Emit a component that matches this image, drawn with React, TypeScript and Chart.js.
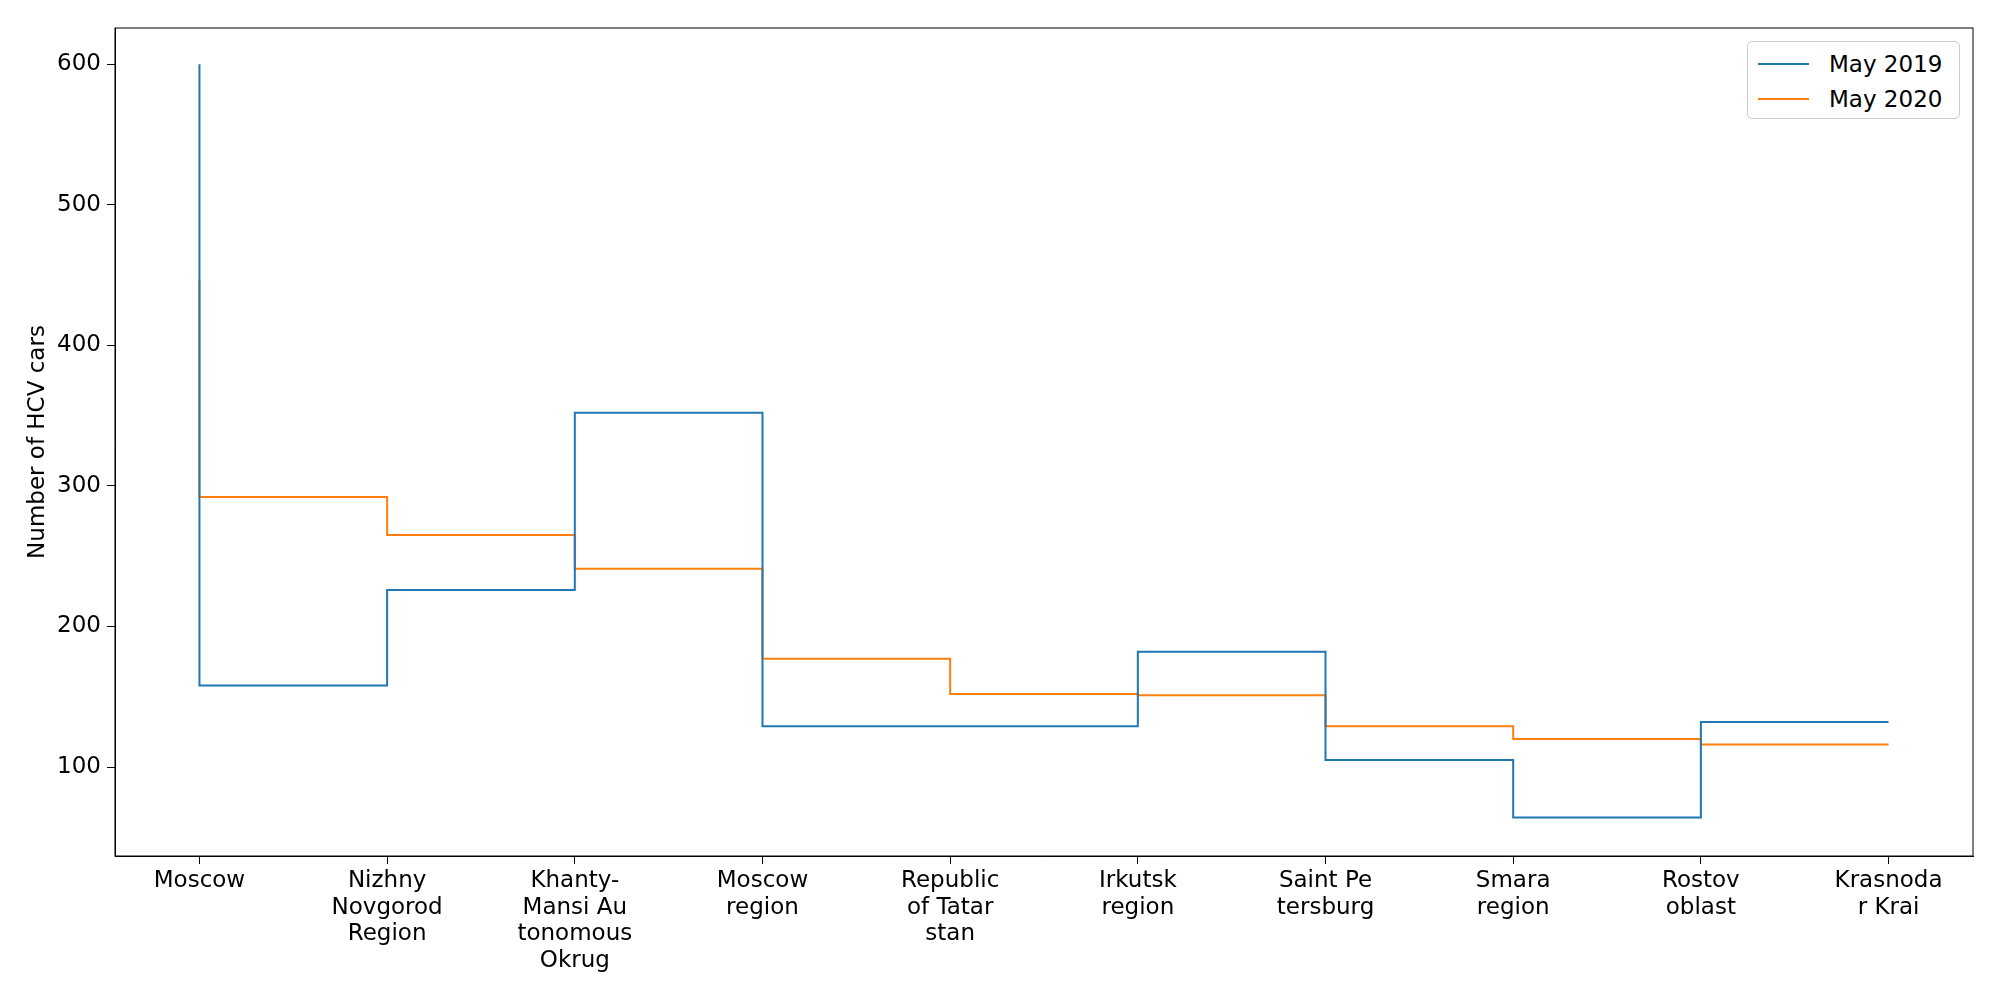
import React, { useEffect, useRef } from "react";
import { Chart, registerables } from "chart.js";
Chart.register(...registerables);

const categories: string[][] = [
  ["Moscow"], ["Nizhny", "Novgorod", "Region"], ["Khanty-", "Mansi Au", "tonomous", "Okrug"],
  ["Moscow", "region"], ["Republic", "of Tatar", "stan"], ["Irkutsk", "region"],
  ["Saint Pe", "tersburg"], ["Smara", "region"], ["Rostov", "oblast"], ["Krasnoda", "r Krai"],
];
const may2019 = [600, 158, 226, 352, 129, 129, 182, 105, 64, 132];
const may2020 = [447, 292, 265, 241, 177, 152, 151, 129, 120, 116];
const yTicks = [100, 200, 300, 400, 500, 600];

const FONT = "DejaVu Sans";

export default function App() {
  const ref = useRef<HTMLCanvasElement>(null);
  useEffect(() => {
    document.body.style.margin = "0";
    const frame = {
      id: "frame",
      afterDraw(c: any) {
        const { left, right, top, bottom } = c.chartArea;
        const ctx = c.ctx;
        ctx.save();
        ctx.strokeStyle = "black";
        ctx.lineWidth = 1;
        ctx.strokeRect(left, top, right - left, bottom - top);
        ctx.restore();
      },
    };
    const chart = new Chart(ref.current!, {
      type: "line",
      data: {
        datasets: [
          { label: "May 2019", data: may2019.map((y, i) => ({ x: i, y })), borderColor: "#1f77b4", borderWidth: 2, stepped: "after", pointRadius: 0, fill: false },
          { label: "May 2020", data: may2020.map((y, i) => ({ x: i, y })), borderColor: "#ff7f0e", borderWidth: 2, stepped: "after", pointRadius: 0, fill: false },
        ],
      },
      options: {
        animation: false,
        responsive: false,
        layout: { padding: { top: 28, right: 27, left: 0, bottom: 0 } },
        plugins: { legend: { display: false }, tooltip: { enabled: false } },
        scales: {
          x: {
            type: "linear", min: -0.45, max: 9.45,
            afterBuildTicks: (s: any) => { s.ticks = categories.map((_, i) => ({ value: i })); },
            afterFit: (s: any) => { s.height = 144; },
            ticks: { callback: (v: any) => categories[v] ?? "", color: "black", font: { family: FONT, size: 23, lineHeight: 1.15 }, maxRotation: 0, autoSkip: false, padding: 4 },
            grid: { drawOnChartArea: false, drawTicks: true, tickLength: 8, color: "black" },
            border: { color: "black" },
          },
          y: {
            min: 36.7, max: 625.7,
            afterBuildTicks: (s: any) => { s.ticks = yTicks.map((v) => ({ value: v })); },
            afterFit: (s: any) => { s.width = 115; },
            ticks: { color: "black", font: { family: FONT, size: 23 }, padding: 6 },
            grid: { drawOnChartArea: false, drawTicks: true, tickLength: 8, color: "black" },
            border: { color: "black" },
            title: { display: true, text: "Number of HCV cars", color: "black", font: { family: FONT, size: 23 }, padding: { top: 24, bottom: 0 } },
          },
        },
      },
      plugins: [frame],
    } as any);
    return () => chart.destroy();
  }, []);
  const item = (color: string, text: string) => (
    <div style={{ display: "flex", alignItems: "center", height: 35 }}>
      <div style={{ width: 51, height: 2, background: color, marginRight: 20 }} />
      <span>{text}</span>
    </div>
  );
  return (
    <div style={{ position: "relative", width: 2000, height: 1000 }}>
      <canvas ref={ref} width={2000} height={1000} style={{ width: 2000, height: 1000 }} />
      <div style={{ position: "absolute", left: 1747, top: 41, width: 213, height: 78, boxSizing: "border-box", border: "1px solid #ccc", borderRadius: 5, background: "white", fontFamily: FONT, fontSize: 23, padding: "4px 10px", }}>
        {item("#1f77b4", "May 2019")}
        {item("#ff7f0e", "May 2020")}
      </div>
    </div>
  );
}
